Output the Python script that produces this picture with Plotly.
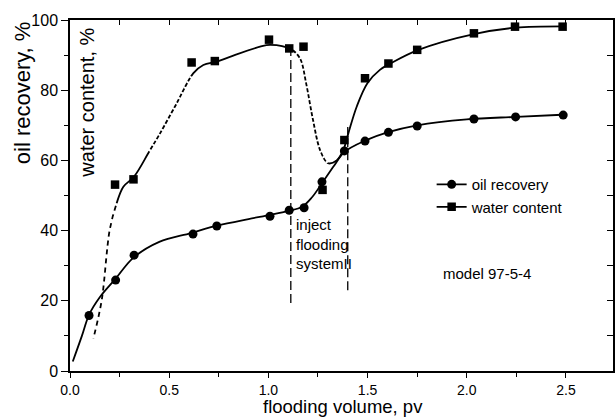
import plotly.graph_objects as go

# ---------------- data ----------------
oil_x = [0.096, 0.23, 0.323, 0.62, 0.74, 1.008, 1.105, 1.18, 1.27, 1.383, 1.487, 1.605, 1.75, 2.036, 2.246, 2.486]
oil_y = [15.8, 25.9, 33.0, 39.0, 41.3, 44.1, 45.8, 46.5, 53.9, 62.7, 65.5, 68.0, 69.8, 71.8, 72.4, 72.9]

water_x = [0.227, 0.32, 0.613, 0.73, 1.003, 1.105, 1.177, 1.273, 1.383, 1.487, 1.605, 1.75, 2.036, 2.243, 2.483]
water_y = [53.1, 54.6, 87.9, 88.3, 94.4, 91.9, 92.4, 51.6, 65.8, 83.4, 87.6, 91.5, 96.2, 98.1, 98.1]

# fitted (hand drawn) curves
oil_curve_x = [0.014, 0.06, 0.096, 0.15, 0.23, 0.32, 0.45, 0.61, 0.74, 0.9, 1.01, 1.1, 1.17, 1.22, 1.27, 1.33, 1.383, 1.49, 1.6, 1.75, 2.0, 2.25, 2.48]
oil_curve_y = [2.7, 10.0, 16.0, 21.0, 26.3, 32.3, 36.8, 39.3, 41.4, 43.3, 44.5, 45.6, 46.8, 49.5, 53.5, 58.4, 62.4, 65.7, 68.0, 70.0, 71.7, 72.4, 73.0]

water_curve_x = [0.118, 0.16, 0.20, 0.235, 0.269, 0.323, 0.40, 0.454, 0.538, 0.621, 0.672, 0.739, 0.806, 0.958, 1.01, 1.113, 1.16, 1.19, 1.225, 1.26, 1.30, 1.344, 1.378, 1.403, 1.445, 1.499, 1.562, 1.618, 1.756, 2.036, 2.246, 2.48]
water_curve_y = [9.3, 20.2, 40.2, 47.8, 52.5, 55.4, 62.6, 67.7, 76.3, 84.8, 87.2, 88.1, 89.5, 92.4, 92.9, 91.7, 89.0, 82.0, 71.5, 63.0, 59.2, 60.0, 63.0, 67.7, 75.3, 82.0, 85.8, 87.7, 91.5, 96.0, 97.8, 98.2]
# dashed stretches of the water curve: (first knot, last knot, gap/dash pattern)
water_dashed = [(0, 3, "4px,5px"), (6, 9, "2px,4px"), (15, 20, "2px,4px")]

vline_x = [1.113, 1.40]
vline_y0 = [19.4, 23.0]
vline_y1 = [93.0, 69.5]

x_range = [0, 2.737]
y_range = [0, 100]

FONT = "Liberation Sans, Arial, sans-serif"

fig = go.Figure()

# water content curve (one smooth spline), with dashed stretches made by white gaps
fig.add_trace(go.Scatter(x=water_curve_x, y=water_curve_y, mode="lines",
                         line=dict(color="black", width=1.8, shape="spline"),
                         showlegend=False, hoverinfo="skip"))
for a, b, d in water_dashed:
    fig.add_trace(go.Scatter(x=water_curve_x[a:b + 1], y=water_curve_y[a:b + 1], mode="lines",
                             line=dict(color="white", width=3.4, shape="spline", dash=d),
                             showlegend=False, hoverinfo="skip"))

# oil recovery curve
fig.add_trace(go.Scatter(x=oil_curve_x, y=oil_curve_y, mode="lines",
                         line=dict(color="black", width=1.8, shape="spline"),
                         showlegend=False, hoverinfo="skip"))

# vertical dashed lines
for vx, y0, y1 in zip(vline_x, vline_y0, vline_y1):
    fig.add_trace(go.Scatter(x=[vx, vx], y=[y0, y1], mode="lines",
                             line=dict(color="black", width=1.3, dash="9px,4px"),
                             showlegend=False, hoverinfo="skip"))

# markers
fig.add_trace(go.Scatter(x=oil_x, y=oil_y, mode="markers",
                         marker=dict(symbol="circle", size=9, color="black"),
                         showlegend=False))
fig.add_trace(go.Scatter(x=water_x, y=water_y, mode="markers",
                         marker=dict(symbol="square", size=8.5, color="black"),
                         showlegend=False))

# legend proxies
fig.add_trace(go.Scatter(x=[None], y=[None], mode="lines+markers", name="oil recovery",
                         line=dict(color="black", width=1.8),
                         marker=dict(symbol="circle", size=9, color="black")))
fig.add_trace(go.Scatter(x=[None], y=[None], mode="lines+markers", name="water content",
                         line=dict(color="black", width=1.8),
                         marker=dict(symbol="square", size=8.5, color="black")))

# invisible trace for the mirror axes
fig.add_trace(go.Scatter(x=[None], y=[None], xaxis="x2", yaxis="y2", showlegend=False))

fig.update_layout(
    width=615, height=417,
    margin=dict(l=70, r=2, t=20, b=46),
    paper_bgcolor="white", plot_bgcolor="white",
    font=dict(family=FONT, color="black", size=15),
    xaxis=dict(range=x_range, dtick=0.5, tick0=0, tickformat=".1f",
               showgrid=False, zeroline=False, showline=True, linecolor="black", linewidth=1.5,
               ticks="outside", ticklen=5, tickwidth=1.3, tickcolor="black",
               tickfont=dict(size=14, family=FONT),
               minor=dict(dtick=0.25, ticks="outside", ticklen=4, tickwidth=1.2, tickcolor="black")),
    yaxis=dict(range=y_range, dtick=20, tick0=0,
               showgrid=False, zeroline=False, showline=True, linecolor="black", linewidth=1.5,
               ticks="outside", ticklen=7, tickwidth=1.3, tickcolor="black",
               tickfont=dict(size=16, family=FONT),
               minor=dict(dtick=10, ticks="outside", ticklen=4, tickwidth=1.2, tickcolor="black")),
    xaxis2=dict(range=x_range, overlaying="x", side="top", dtick=0.25, tick0=0,
                showticklabels=False, showgrid=False, zeroline=False,
                showline=True, linecolor="black", linewidth=1.5,
                ticks="inside", ticklen=5, tickwidth=1.2, tickcolor="black"),
    yaxis2=dict(range=y_range, overlaying="y", side="right", dtick=10, tick0=0,
                showticklabels=False, showgrid=False, zeroline=False,
                showline=True, linecolor="black", linewidth=1.5,
                ticks="inside", ticklen=6, tickwidth=1.2, tickcolor="black"),
    legend=dict(x=0.666, y=0.578, xanchor="left", yanchor="top",
                bgcolor="rgba(0,0,0,0)", font=dict(size=15, family=FONT),
                tracegroupgap=0, itemwidth=30),
    showlegend=True,
)

annotations = [
    dict(text="oil recovery, %", xref="paper", yref="paper", x=-0.088, y=0.792,
         textangle=-90, showarrow=False, font=dict(size=22, family=FONT),
         xanchor="center", yanchor="middle"),
    dict(text="water content, %", xref="paper", yref="paper", x=0.031, y=0.764,
         textangle=-90, showarrow=False, font=dict(size=20, family=FONT),
         xanchor="center", yanchor="middle"),
    dict(text="flooding volume, pv", xref="paper", yref="paper", x=0.503, y=-0.102,
         showarrow=False, font=dict(size=18.5, family=FONT),
         xanchor="center", yanchor="middle"),
    dict(text="inject<br>flooding<br>systemII", xref="x", yref="y", x=1.13, y=44.6,
         showarrow=False, font=dict(size=15, family=FONT), align="left",
         xanchor="left", yanchor="top"),
    dict(text="model 97-5-4", xref="x", yref="y", x=1.872, y=27.9,
         showarrow=False, font=dict(size=15, family=FONT),
         xanchor="left", yanchor="middle"),
]
fig.update_layout(annotations=annotations)

fig.write_html("out.html")
